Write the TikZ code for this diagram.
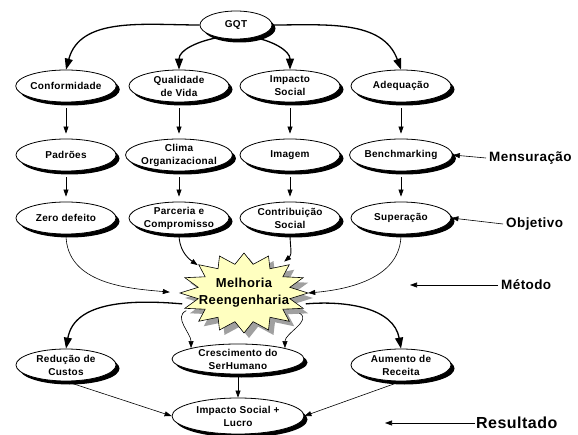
\documentclass[tikz,border=0pt]{standalone}
\usepackage{fontspec}
\setmainfont{Liberation Sans}[LetterSpace=3]
\usetikzlibrary{shapes.geometric,shadows,arrows.meta}
\definecolor{starbody}{RGB}{255,255,192}
\definecolor{starshade}{RGB}{160,160,160}
\tikzset{
  bubble/.style={ellipse, draw, fill=white, line width=0.8pt,
    minimum width=100pt, minimum height=32pt, inner sep=0pt, align=center,
    font=\fontsize{10}{13}\selectfont\bfseries,
    drop shadow={shadow xshift=3.5pt, shadow yshift=-3.5pt, fill=black, opacity=1}},
  flow/.style={-{Triangle[length=7pt,width=5pt]}, line width=0.6pt},
  vflow/.style={flow, shorten <=6pt, shorten >=5pt},
  bigflow/.style={-{Triangle[length=11pt,width=8pt]}, line width=1.3pt},
  tag/.style={font=\fontsize{13.5}{15}\selectfont\bfseries, inner sep=3pt, anchor=west},
}
\begin{document}
\begin{tikzpicture}[x=1pt, y=1pt]
  \useasboundingbox (0,0) rectangle (578,-435);
  % top
  \node[bubble, minimum width=72pt, minimum height=28pt] (gqt) at (236,-25) {GQT};
  % first row
  \node[bubble] (conf)  at (66,-86)  {Conformidade};
  \node[bubble] (qual)  at (179,-86) {Qualidade\\de Vida};
  \node[bubble] (impac) at (290,-86) {Impacto\\Social};
  \node[bubble] (adeq)  at (401,-86) {Adequação};
  % second row
  \node[bubble] (padr)  at (66,-155)  {Padrões};
  \node[bubble] (clima) at (179,-155) {Clima\\Organizacional};
  \node[bubble] (imag)  at (290,-155) {Imagem};
  \node[bubble] (bench) at (401,-155) {Benchmarking};
  % third row
  \node[bubble] (zero)  at (66,-218)  {Zero defeito};
  \node[bubble] (parc)  at (179,-218) {Parceria e\\Compromisso};
  \node[bubble] (contr) at (290,-218) {Contribuição\\Social};
  \node[bubble] (super) at (401,-218) {Superação};
  % star
  \fill[starshade, shift={(5,-5)}] (308,-293) \foreach \i in {1,...,31}{
    -- ({244+64*(1-0.27*mod(\i,2))*cos(\i*11.25)}, {-293+40*(1-0.27*mod(\i,2))*sin(\i*11.25)}) } -- cycle;
  \filldraw[fill=starbody, draw=black, line width=0.6pt] (308,-293) \foreach \i in {1,...,31}{
    -- ({244+64*(1-0.27*mod(\i,2))*cos(\i*11.25)}, {-293+40*(1-0.27*mod(\i,2))*sin(\i*11.25)}) } -- cycle;
  \node[ellipse, minimum width=128pt, minimum height=80pt, inner sep=0pt, align=center,
    font=\fontsize{13}{17}\selectfont\bfseries] (melhoria) at (244,-293) {Melhoria\\Reengenharia};
  % results
  \node[bubble] (redu) at (66,-365) {Redução de\\Custos};
  \node[bubble, minimum width=132pt, minimum height=30pt] (cresc) at (238,-359) {Crescimento do\\SerHumano};
  \node[bubble] (aum) at (401,-365) {Aumento de\\Receita};
  \node[bubble, minimum width=132pt, minimum height=36pt] (isl) at (238,-416) {Impacto Social +\\Lucro};
  % side labels
  \node[tag] (mens) at (486,-158) {Mensuração};
  \node[tag] (objt) at (503,-224) {Objetivo};
  \node[tag] (metd) at (498,-285) {Método};
  \node[tag, font=\fontsize{16}{18}\selectfont\bfseries, inner sep=1pt] (resul) at (475,-423) {Resultado};
  \coordinate (metdtip) at (410,-285);
  \coordinate (resultip) at (385,-423);
  % from GQT
  \draw[bigflow] (gqt.west) to[out=180, in=75] (conf.north);
  \draw[bigflow] (gqt.215) to[out=190, in=90] (qual.north);
  \draw[bigflow] (gqt.325) to[out=-10, in=90] (impac.north);
  \draw[bigflow] (gqt.east) to[out=0, in=110] (adeq.north);
  % columns
  \foreach \a/\b in {conf/padr, qual/clima, impac/imag, adeq/bench,
                     padr/zero, clima/parc, imag/contr, bench/super}
    \draw[vflow] (\a) -- (\b);
  % into the star
  \draw[flow, shorten >=10pt] (zero.south) to[out=-90, in=175] (melhoria.west);
  \draw[flow, line width=0.9pt] (parc.south) to[out=-90, in=145] (melhoria.149);
  \draw[flow, line width=0.9pt] (contr.south) to[out=-90, in=40] (melhoria.38);
  \draw[flow] (super.south) to[out=-90, in=5] (melhoria.east);
  % out of the star
  \draw[bigflow] (melhoria.190) to[out=175, in=80] (redu.north);
  \draw[flow] (melhoria.197) to[out=205, in=90] (cresc.north west);
  \draw[flow] (melhoria.340) to[out=-30, in=90] (cresc.north east);
  \draw[bigflow] (melhoria.-10) to[out=5, in=100] (aum.north);
  % to the result
  \draw[flow] (cresc.south) -- (isl.north);
  \draw[flow] (redu.south) -- (isl.west);
  \draw[flow] (aum.south) -- (isl.east);
  % side arrows
  \draw[flow] (mens.west) -- (bench.east);
  \draw[flow] (objt.west) -- (super.east);
  \draw[flow] (metd.west) -- (metdtip);
  \draw[flow] (resul.west) -- (resultip);
\end{tikzpicture}
\end{document}
